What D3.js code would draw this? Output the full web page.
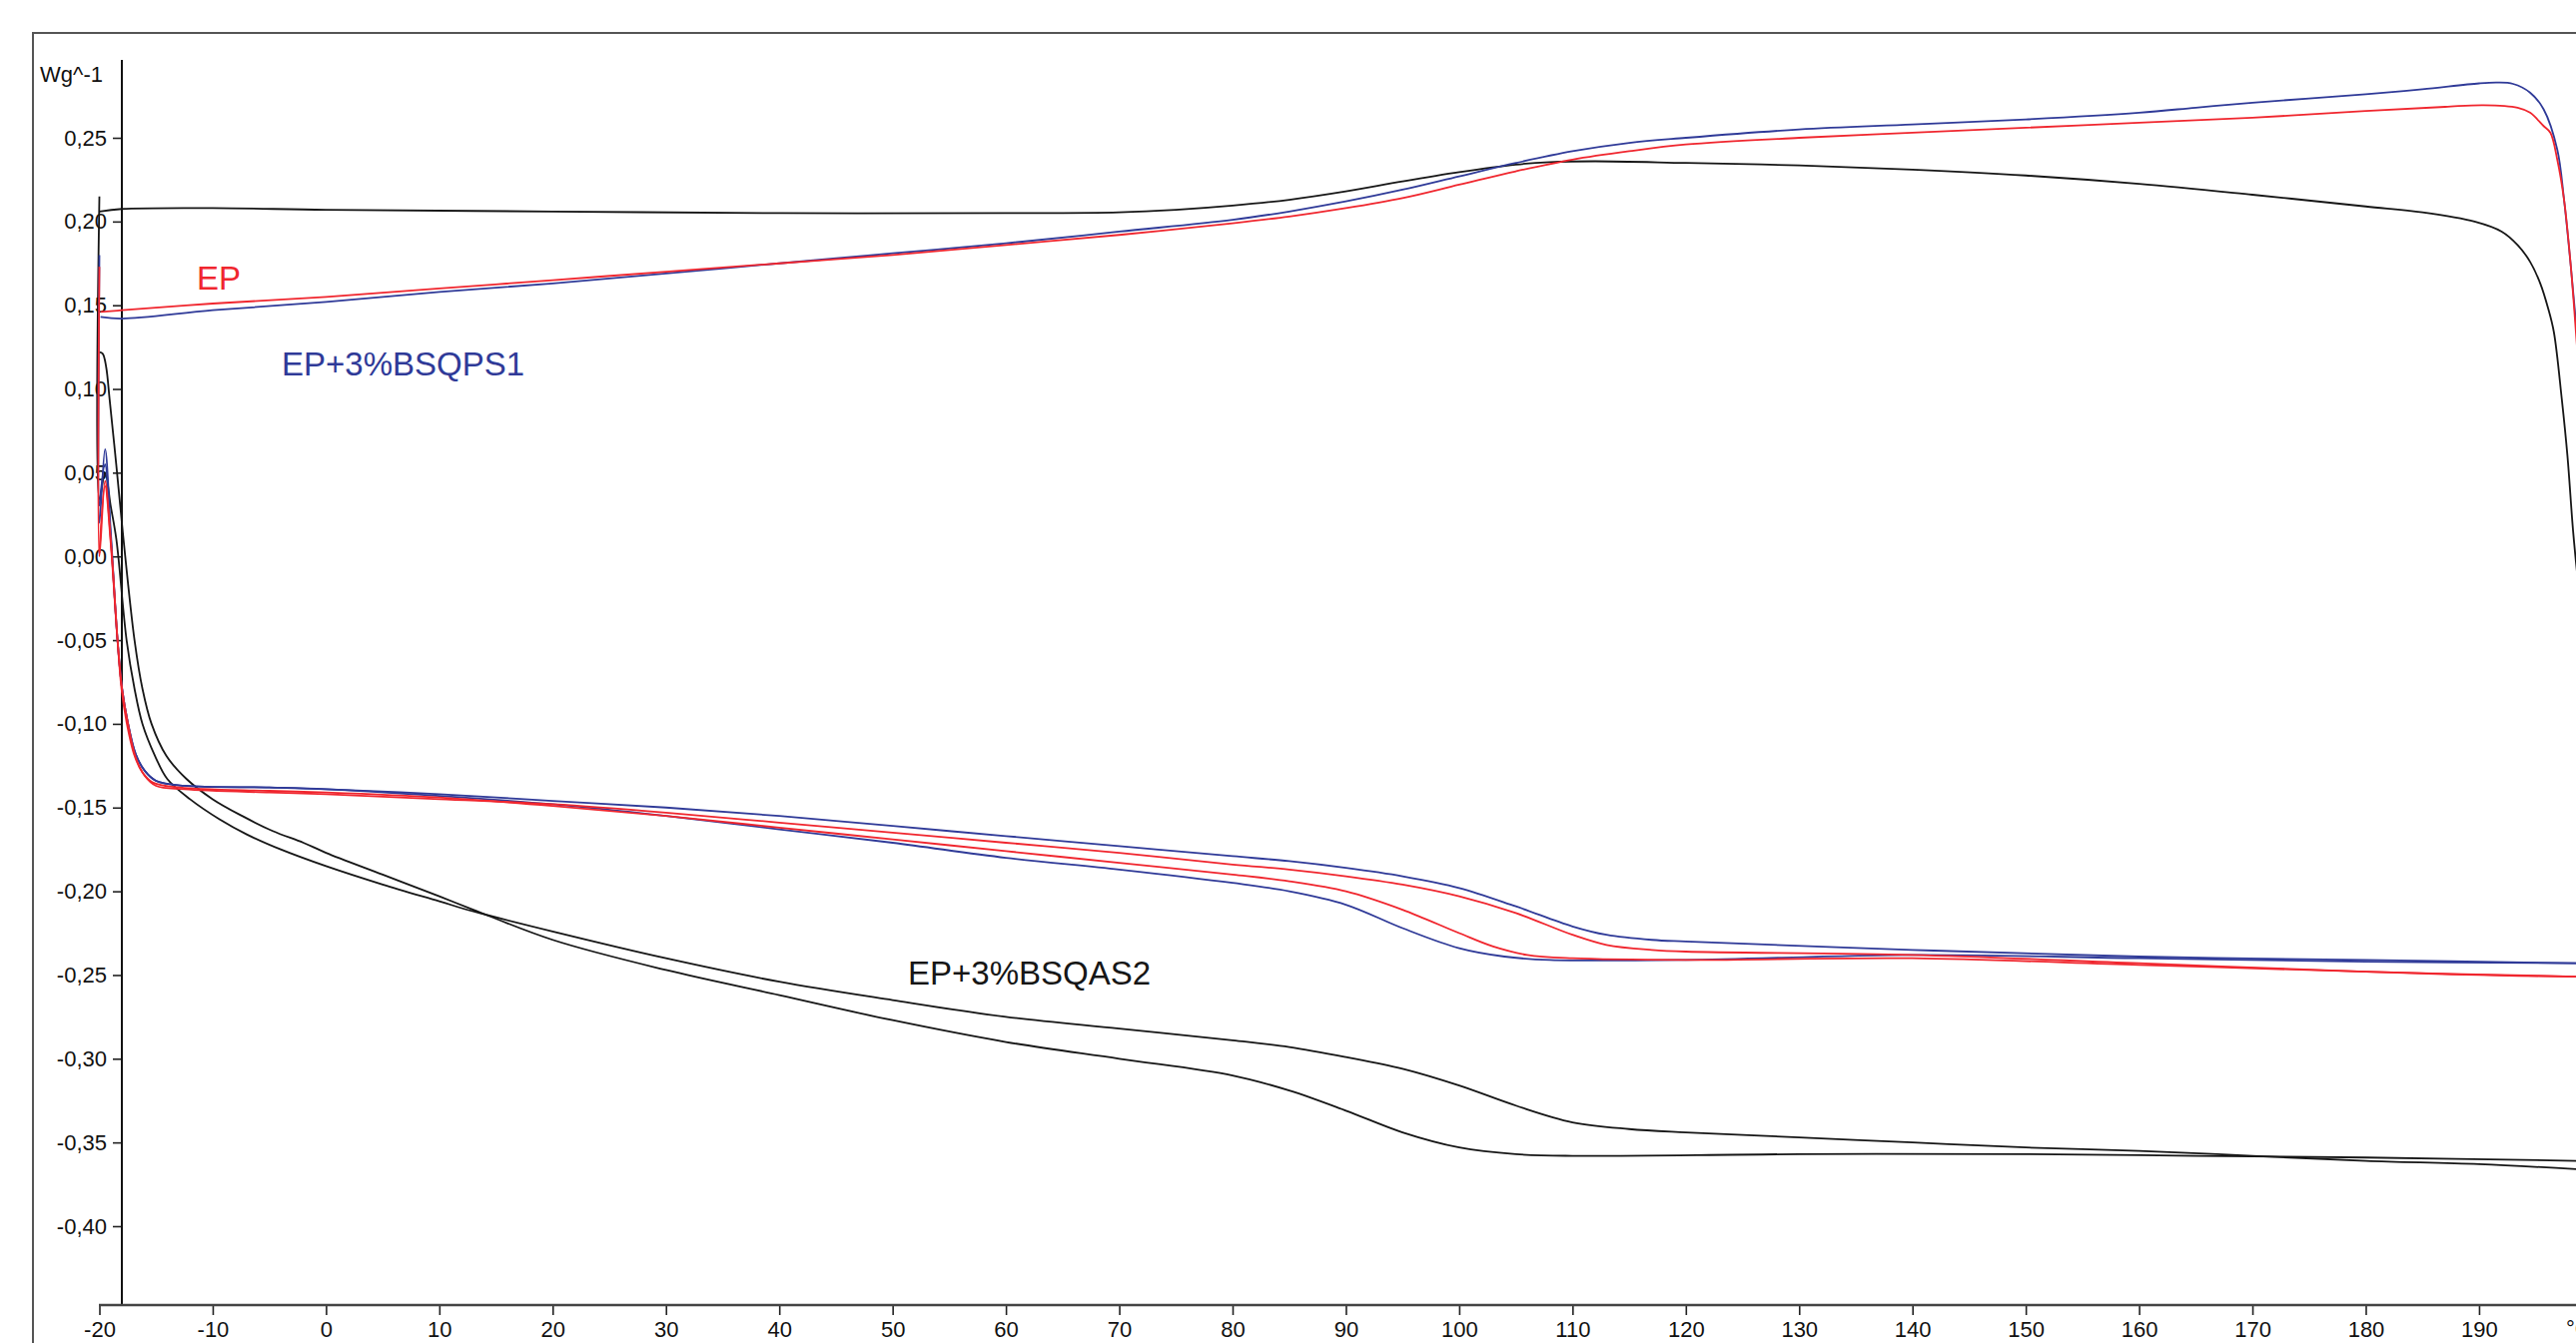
<!DOCTYPE html>
<html>
<head>
<meta charset="utf-8">
<script src="https://cdn.jsdelivr.net/npm/d3@7"></script>
<style>
  html, body { margin: 0; padding: 0; background: #fff; overflow: hidden; }
  svg { display: block; font-family: "Liberation Sans", Arial, sans-serif; }
</style>
</head>
<body>
<svg id="chart" width="2579" height="1345"></svg>
<script>
// DSC thermograms: heat flow (W/g) versus temperature (°C)
const temperatureTicks = d3.range(-20, 200, 10);
const temperatureMinorTicks = d3.range(-20, 201, 2);
const heatFlowTicks = [-0.40, -0.35, -0.30, -0.25, -0.20, -0.15, -0.10, -0.05, 0.00, 0.05, 0.10, 0.15, 0.20, 0.25];
const heatFlowMinorTicks = d3.range(-44, 30, 1).map(d => d / 100);
const heatFlowUnit = "Wg^-1";
const temperatureUnit = "°C";

const seriesNames = ["EP", "EP+3%BSQPS1", "EP+3%BSQAS2"];

// EP: two heating scans and one cooling scan, [temperature, heat flow]
const epHeat1 = [[-20, 0.173], [-20, 0.0], [-19.5, 0.045], [-19.0, 0.01], [-18.4, -0.05], [-18.05, -0.079], [-17.6, -0.099], [-16.9, -0.119], [-16.2, -0.129], [-15.3, -0.135], [-12.9, -0.138], [-5, -0.140], [0, -0.141], [10, -0.144], [20, -0.149], [30, -0.155], [40, -0.162], [50, -0.169], [60, -0.176], [70, -0.183], [80, -0.190], [85, -0.194], [90, -0.200], [95, -0.211], [100, -0.225], [103, -0.233], [106, -0.238], [110, -0.240], [120, -0.241], [140, -0.240], [160, -0.244], [180, -0.248], [190, -0.250], [198.8, -0.251]];
const epHeat2 = [[-20, 0.002], [-19.5, 0.042], [-19.0, 0.008], [-18.4, -0.05], [-18.0, -0.079], [-17.5, -0.099], [-16.8, -0.12], [-16.0, -0.131], [-15, -0.137], [-12.5, -0.139], [-5, -0.141], [0, -0.142], [10, -0.145], [20, -0.148], [30, -0.153], [40, -0.159], [50, -0.165], [60, -0.171], [70, -0.177], [80, -0.184], [85, -0.187], [90, -0.191], [95, -0.196], [100, -0.203], [105, -0.213], [110, -0.226], [113, -0.232], [117, -0.235], [120, -0.236], [140, -0.238], [160, -0.243], [180, -0.248], [198.8, -0.251]];
const epCool = [[-19.9, 0.146], [-18, 0.147], [-10, 0.151], [0, 0.155], [10, 0.160], [20, 0.165], [30, 0.170], [40, 0.175], [50, 0.180], [60, 0.186], [70, 0.192], [80, 0.199], [85, 0.203], [90, 0.208], [95, 0.214], [100, 0.222], [105, 0.230], [110, 0.237], [115, 0.242], [120, 0.246], [130, 0.250], [140, 0.253], [150, 0.256], [160, 0.259], [170, 0.262], [180, 0.266], [187, 0.2685], [190.4, 0.2695], [193.4, 0.268], [194.5, 0.265], [195.7, 0.257], [196.3, 0.253], [196.9, 0.237], [197.5, 0.213], [198.1, 0.173], [198.8, 0.11]];

// EP+3%BSQPS1
const bsqps1Heat1 = [[-20, 0.18], [-20, 0.02], [-19.5, 0.064], [-19.0, 0.015], [-18.4, -0.05], [-18.0, -0.079], [-17.5, -0.099], [-16.8, -0.118], [-16.0, -0.128], [-15, -0.134], [-12.5, -0.137], [-5, -0.138], [0, -0.139], [10, -0.143], [20, -0.148], [30, -0.155], [40, -0.163], [50, -0.171], [60, -0.180], [70, -0.187], [80, -0.195], [85, -0.200], [90, -0.208], [95, -0.222], [100, -0.234], [104, -0.239], [108, -0.241], [120, -0.241], [140, -0.238], [160, -0.240], [180, -0.242], [198.8, -0.243]];
const bsqps1Heat2 = [[-20, 0.03], [-19.5, 0.055], [-19.0, 0.012], [-18.4, -0.05], [-18.0, -0.079], [-17.5, -0.099], [-16.8, -0.118], [-16.0, -0.128], [-15, -0.134], [-12.5, -0.137], [-5, -0.138], [0, -0.139], [10, -0.142], [20, -0.146], [30, -0.150], [40, -0.155], [50, -0.161], [60, -0.167], [70, -0.173], [80, -0.179], [85, -0.182], [90, -0.186], [95, -0.191], [100, -0.198], [105, -0.209], [110, -0.221], [113, -0.226], [117, -0.229], [120, -0.230], [140, -0.235], [160, -0.239], [180, -0.241], [198.8, -0.243]];
const bsqps1Cool = [[-19.9, 0.143], [-18, 0.142], [-10, 0.147], [0, 0.152], [10, 0.158], [20, 0.163], [30, 0.169], [40, 0.175], [50, 0.181], [60, 0.187], [70, 0.194], [80, 0.201], [85, 0.206], [90, 0.212], [95, 0.219], [100, 0.227], [105, 0.235], [110, 0.242], [115, 0.247], [120, 0.250], [130, 0.255], [140, 0.258], [150, 0.261], [160, 0.265], [165, 0.268], [170, 0.271], [180, 0.276], [185, 0.279], [190, 0.2825], [191.6, 0.283], [193, 0.2822], [194.5, 0.277], [195.7, 0.267], [196.9, 0.243], [197.5, 0.213], [198.1, 0.173], [198.8, 0.12]];

// EP+3%BSQAS2
const bsqas2Heat1 = [[-20, 0.215], [-20, 0.034], [-19.5, 0.05], [-19.0, 0.03], [-18.5, 0.01], [-17.6, -0.05], [-16.9, -0.079], [-16.2, -0.10], [-15.1, -0.119], [-14, -0.133], [-12, -0.145], [-9.4, -0.157], [-7, -0.166], [-4, -0.175], [0, -0.185], [5, -0.196], [10, -0.206], [13, -0.212], [20, -0.224], [30, -0.240], [40, -0.254], [50, -0.265], [60, -0.275], [70, -0.282], [80, -0.289], [85, -0.293], [90, -0.299], [95, -0.306], [100, -0.316], [105, -0.328], [110, -0.338], [115, -0.342], [120, -0.344], [130, -0.347], [140, -0.350], [150, -0.353], [160, -0.355], [170, -0.358], [180, -0.361], [190, -0.363], [198.8, -0.366]];
const bsqas2Heat2 = [[-20, 0.122], [-19.7, 0.121], [-19.4, 0.113], [-19.1, 0.094], [-18.5, 0.054], [-17.9, 0.012], [-16.9, -0.05], [-16.2, -0.079], [-15.4, -0.10], [-14.1, -0.119], [-12.3, -0.133], [-10, -0.145], [-7.4, -0.155], [-4.7, -0.164], [-2, -0.171], [0, -0.177], [5, -0.190], [10, -0.203], [13, -0.211], [20, -0.229], [30, -0.247], [40, -0.262], [50, -0.277], [60, -0.290], [70, -0.300], [80, -0.310], [85, -0.319], [90, -0.331], [95, -0.344], [100, -0.353], [105, -0.357], [110, -0.358], [130, -0.357], [150, -0.357], [165, -0.358], [180, -0.359], [198.8, -0.361]];
const bsqas2Cool = [[-20, 0.206], [-18, 0.2075], [-10, 0.208], [0, 0.207], [20, 0.206], [40, 0.205], [60, 0.205], [70, 0.2055], [75, 0.207], [80, 0.2095], [85, 0.213], [90, 0.218], [95, 0.224], [100, 0.2295], [105, 0.234], [108, 0.2355], [112, 0.236], [120, 0.235], [130, 0.2335], [140, 0.231], [150, 0.2275], [160, 0.2225], [170, 0.216], [180, 0.209], [185, 0.2055], [189.6, 0.200], [192, 0.194], [193.4, 0.186], [194.5, 0.176], [195.4, 0.163], [196.1, 0.148], [196.6, 0.134], [197.3, 0.094], [197.8, 0.06], [198.3, 0.015], [198.8, -0.02]];

const colors = { "EP": "#f0262e", "EP+3%BSQPS1": "#2f3a98", "EP+3%BSQAS2": "#161616" };

const curves = [
  { name: "EP+3%BSQAS2", data: bsqas2Heat1 },
  { name: "EP+3%BSQAS2", data: bsqas2Heat2 },
  { name: "EP+3%BSQAS2", data: bsqas2Cool },
  { name: "EP+3%BSQPS1", data: bsqps1Heat1 },
  { name: "EP+3%BSQPS1", data: bsqps1Heat2 },
  { name: "EP+3%BSQPS1", data: bsqps1Cool },
  { name: "EP", data: epHeat1 },
  { name: "EP", data: epHeat2 },
  { name: "EP", data: epCool }
];

const svg = d3.select("#chart");

const x = d3.scaleLinear().domain([-20, 200]).range([99.5, 2595.4]);
const y = d3.scaleLinear().domain([-0.40, 0.25]).range([1228, 138]);

// decimal comma and plain hyphen for negatives
const fmt = v => v.toFixed(2).replace(".", ",");

// outer frame
svg.append("rect")
  .attr("x", 33).attr("y", 33).attr("width", 2700).attr("height", 1400)
  .attr("fill", "none").attr("stroke", "#555").attr("stroke-width", 2);

// y axis
const yAxisG = svg.append("g").attr("transform", "translate(122,0)");
yAxisG.call(d3.axisLeft(y).tickValues(heatFlowMinorTicks).tickSize(5).tickFormat(""));
yAxisG.call(d3.axisLeft(y).tickValues(heatFlowTicks).tickSize(9).tickPadding(6).tickFormat(fmt));
yAxisG.selectAll(".domain").remove();
yAxisG.selectAll("text").attr("font-size", 22).attr("fill", "#111").attr("font-family", "Liberation Sans, Arial, sans-serif");
yAxisG.selectAll("line").attr("stroke", "#222").attr("stroke-width", 1.6);
yAxisG.append("line").attr("x1", 0).attr("x2", 0).attr("y1", 60).attr("y2", 1307)
  .attr("stroke", "#111").attr("stroke-width", 2);
yAxisG.append("text").attr("x", -19).attr("y", 82).attr("text-anchor", "end")
  .attr("font-size", 22).attr("fill", "#111").text(heatFlowUnit);

// x axis
const xAxisG = svg.append("g").attr("transform", "translate(0,1307)");
xAxisG.call(d3.axisBottom(x).tickValues(temperatureMinorTicks).tickSize(6).tickFormat(""));
xAxisG.call(d3.axisBottom(x).tickValues(temperatureTicks).tickSize(10).tickPadding(6).tickFormat(d => String(d)));
xAxisG.selectAll(".domain").remove();
xAxisG.selectAll("text").attr("font-size", 22).attr("fill", "#111").attr("font-family", "Liberation Sans, Arial, sans-serif");
xAxisG.selectAll("line").attr("stroke", "#222").attr("stroke-width", 1.6);
xAxisG.append("line").attr("x1", 99).attr("x2", 2600).attr("y1", 0).attr("y2", 0)
  .attr("stroke", "#444").attr("stroke-width", 2.5);
xAxisG.append("text").attr("x", 2569).attr("y", 31).attr("text-anchor", "start")
  .attr("font-size", 22).attr("fill", "#111").text(temperatureUnit);

// thermogram curves
const line = d3.line()
  .x(d => x(d[0]))
  .y(d => y(d[1]))
  .curve(d3.curveCatmullRom.alpha(0.5));

svg.append("g").selectAll("path")
  .data(curves)
  .join("path")
  .attr("d", d => line(d.data))
  .attr("fill", "none")
  .attr("stroke", d => colors[d.name])
  .attr("stroke-width", 1.8)
  .attr("stroke-linejoin", "round");

// series labels
const labels = [
  { name: seriesNames[0], x: 197, y: 290 },
  { name: seriesNames[1], x: 282, y: 376 },
  { name: seriesNames[2], x: 909, y: 986 }
];
svg.append("g").selectAll("text")
  .data(labels)
  .join("text")
  .attr("x", d => d.x).attr("y", d => d.y)
  .attr("font-size", 33)
  .attr("fill", d => colors[d.name])
  .text(d => d.name);
</script>
</body>
</html>
